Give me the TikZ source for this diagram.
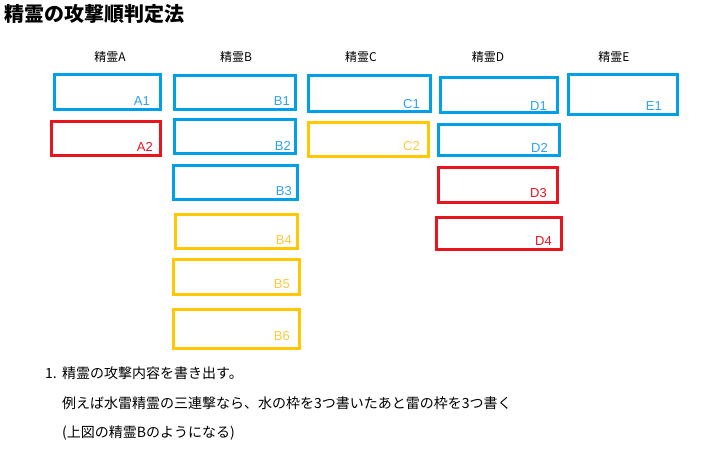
\documentclass[tikz,border=0pt]{standalone}
\usepackage{fontspec}
\setmainfont{Liberation Sans}
\newfontfamily\jp{Noto Sans CJK JP}
\definecolor{cb}{HTML}{00A0E9}
\definecolor{cr}{HTML}{E8141E}
\definecolor{cy}{HTML}{FFC800}
\definecolor{cbt}{HTML}{2FA0F0}
\definecolor{crt}{HTML}{E8141E}
\definecolor{cyt}{HTML}{FFC83C}
\newcommand\elbox[8]{%
  \node[frame=#2,minimum width=#5pt,minimum height=#6pt] (#1) at (#3,#4) {};
  \node[lab=#2t] (#1l) at (#7,#8) {#1};}
\begin{document}
\begin{tikzpicture}[x=1pt,y=-1pt,
  frame/.style={draw=#1,line width=3pt,inner sep=0pt,outer sep=0pt},
  lab/.style={anchor=base east,inner sep=0pt,font=\fontsize{13}{13}\selectfont,text=#1},
  hdr/.style={anchor=base,inner sep=0pt,font=\jp\fontsize{12}{12}\selectfont},
  body/.style={anchor=base west,inner sep=0pt,font=\jp\fontsize{14}{14}\selectfont}]
\useasboundingbox (0,0) rectangle (727,453);
\node[anchor=base west,inner sep=0pt,font=\jp\bfseries\fontsize{20}{20}\selectfont] (title) at (4,21.5) {精霊の攻撃順判定法};
\node[hdr] (hA) at (110,61.5) {精霊A};
\node[hdr] (hB) at (236,61.5) {精霊B};
\node[hdr] (hC) at (361,61.5) {精霊C};
\node[hdr] (hD) at (488,61.5) {精霊D};
\node[hdr] (hE) at (614,61.5) {精霊E};
\elbox{A1}{cb}{107.5}{92}{106}{35}{150}{105}
\elbox{A2}{cr}{106}{138.5}{109}{34}{153}{151}
\elbox{B1}{cb}{235}{92.5}{121}{34}{290}{105}
\elbox{B2}{cb}{235}{136.5}{121}{34}{291}{150}
\elbox{B3}{cb}{235.5}{182.5}{124}{34}{292}{195}
\elbox{B4}{cy}{236.5}{231.5}{122}{34}{292}{244}
\elbox{B5}{cy}{236.5}{277}{126}{35}{290}{288}
\elbox{B6}{cy}{236.5}{329}{126}{39}{290}{340}
\elbox{C1}{cb}{369.5}{93.5}{122}{36}{420}{108}
\elbox{C2}{cy}{368.5}{139.5}{120}{34}{420}{150}
\elbox{D1}{cb}{499}{95}{117}{35}{547}{110}
\elbox{D2}{cb}{499}{140}{121}{31}{548}{152}
\elbox{D3}{cr}{498}{185}{119}{35}{547}{197}
\elbox{D4}{cr}{499}{233.5}{125}{32}{552}{245}
\elbox{E1}{cb}{623}{94.5}{109}{40}{662}{110}
\node[body] (n1) at (45,378.5) {1.};
\node[body] (t1) at (62,378.5) {精霊の攻撃内容を書き出す。};
\node[body] (t2) at (62,408.5) {例えば水雷精霊の三連撃なら、水の枠を3つ書いたあと雷の枠を3つ書く};
\node[body] (t3) at (62,437.5) {(上図の精霊Bのようになる)};
\end{tikzpicture}
\end{document}
